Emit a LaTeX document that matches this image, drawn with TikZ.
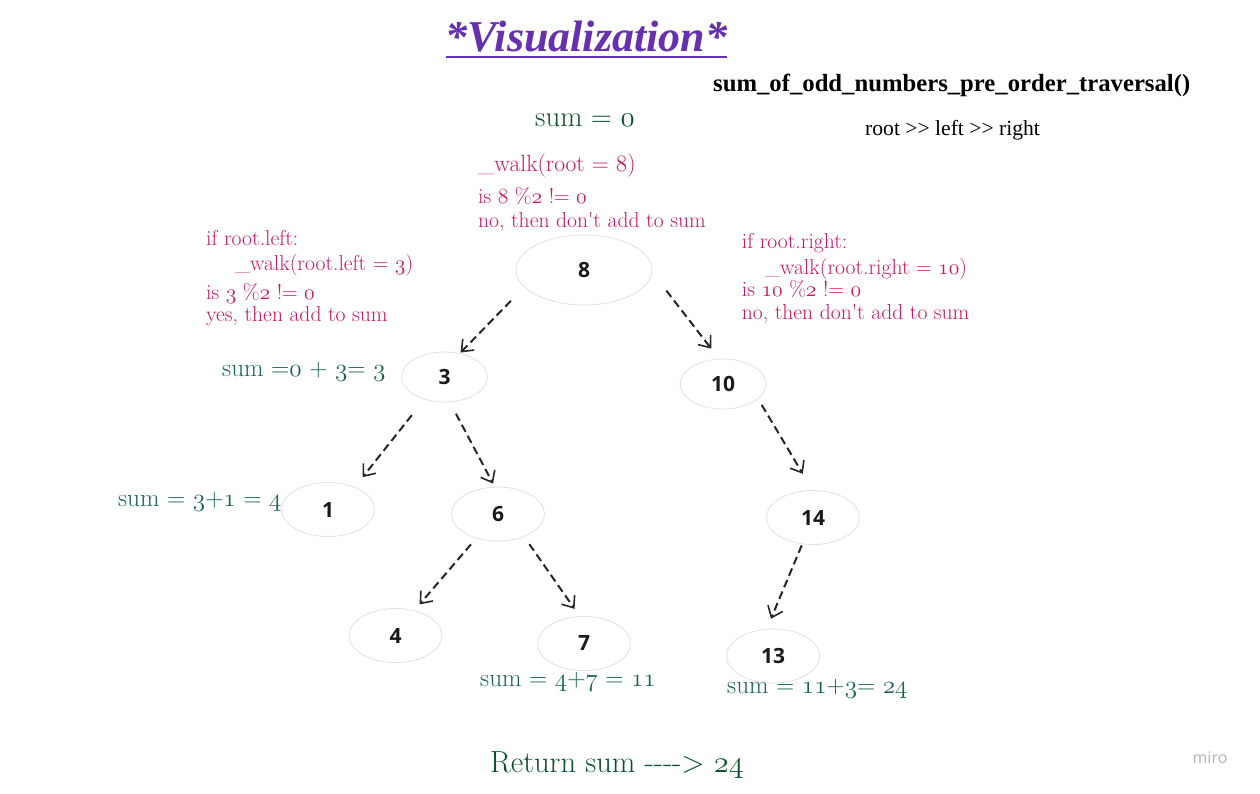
\RequirePackage{fix-cm}
\documentclass[tikz,border=0pt]{standalone}
\usepackage{fontspec}
\newfontfamily\opensans{Open Sans}
\newfontfamily\libserif{Liberation Serif}
\usetikzlibrary{arrows.meta,shapes.geometric,positioning}

\definecolor{walkpink}{RGB}{204,22,98}
\definecolor{sumteal}{RGB}{24,98,88}
\definecolor{sumgreen}{RGB}{10,82,42}
\definecolor{titlepurple}{RGB}{103,48,175}
\definecolor{ringgray}{RGB}{225,225,225}

% old style digits
\newcommand\osd[1]{{\usefont{OML}{cmm}{m}{it}#1}}

\tikzset{
  treenode/.style={ellipse, draw=ringgray, line width=0.8pt, inner sep=0pt,
    text=black!90, font=\opensans\bfseries\fontsize{21}{24}\selectfont},
  bignode/.style={treenode, minimum width=136pt, minimum height=70pt},
  midnode/.style={treenode, minimum width=86pt, minimum height=50pt},
  leafnode/.style={treenode, minimum width=93pt, minimum height=54pt},
  walkarrow/.style={draw=black!85, line width=2pt, dash pattern=on 8pt off 4.5pt,
    -{Straight Barb[length=10pt,width=16pt,line width=1.6pt]}},
  pinktext/.style={anchor=base west, inner sep=0pt, text=walkpink,
    font=\fontsize{21.6}{24}\selectfont},
  sumtext/.style={anchor=base west, inner sep=0pt, text=sumteal,
    font=\fontsize{25.2}{28}\selectfont},
  sumdark/.style={sumtext, text=sumgreen, font=\fontsize{28.8}{32}\selectfont}
}

\begin{document}
\begin{tikzpicture}[x=1pt,y=-1pt]
  \useasboundingbox (0,0) rectangle (1260,793);
  \fill[white] (0,0) rectangle (1260,793);

  % heading
  \node(title) at (586.5,51.7) [anchor=base, inner sep=0pt, text=titlepurple,
    font=\libserif\bfseries\itshape\fontsize{44}{48}\selectfont] {*Visualization*};
  \draw[titlepurple, line width=2pt] ([yshift=-5pt]title.base west) -- ([yshift=-5pt]title.base east);

  \node(fname) at (713,91.7) [anchor=base west, inner sep=0pt,
    font=\libserif\bfseries\fontsize{24.7}{28}\selectfont] {sum\_of\_odd\_numbers\_pre\_order\_traversal()};
  \node(order) at (865,135) [anchor=base west, inner sep=0pt,
    font=\libserif\fontsize{21.6}{26}\selectfont] {root >> left >> right};

  \node(sumzero) at (535,126) [sumdark] {sum = \osd{0}};

  % tree
  \node(n8)  at (584,270)     [bignode]  {8};
  \node(n3)  at (444.5,377)   [midnode]  {3};
  \node(n10) at (723,384)     [midnode]  {10};
  \node(n1)  at (328,509.5)   [leafnode] {1};
  \node(n6)  at (498,514)     [leafnode] {6};
  \node(n14) at (813,517.5)   [leafnode] {14};
  \node(n4)  at (395.5,635.5) [leafnode] {4};
  \node(n7)  at (584,643.5)   [leafnode] {7};
  \node(n13) at (773,656)     [leafnode] {13};

  \draw [walkarrow, shorten <=19pt, shorten >=1pt]    (n8.196.7)  -- (n3.57.5);
  \draw [walkarrow, shorten <=23pt, shorten >=12.7pt] (n8.358.7)  -- (n10.99.8);
  \draw [walkarrow, shorten <=20pt, shorten >=12.6pt] (n3.228.6)  -- (n1.40);
  \draw [walkarrow, shorten <=13pt, shorten >=3.5pt]  (n3.282.5)  -- (n6.97.8);
  \draw [walkarrow, shorten <=7pt, shorten >=19pt]    (n10.337.8) -- (n14.91.2);
  \draw [walkarrow, shorten <=8pt, shorten >=8pt]     (n6.228.6)  -- (n4.53.2);
  \draw [walkarrow, shorten <=9pt, shorten >=9pt]     (n6.319.1)  -- (n7.99.9);
  \draw [walkarrow, shorten <=1.3pt, shorten >=11pt]  (n14.248.2) -- (n13.103.2);

  % calls
  \node(walk8) at (478,171.7) [pinktext, font=\fontsize{23.5}{26}\selectfont] {\_walk(root = \osd{8})};
  \node(chk8)  at (478,203.3) [pinktext] {is \osd{8} \%\osd{2} != \osd{0}};
  \node(res8)  at (478,227.3) [pinktext] {no, then don\textquotesingle t add to sum};

  \node(ifleft) at (206,245) [pinktext] {if root.left:};
  \node(walk3)  at (235,270) [pinktext] {\_walk(root.left = \osd{3})};
  \node(chk3)   at (206,299) [pinktext] {is \osd{3} \%\osd{2} != \osd{0}};
  \node(res3)   at (206,321) [pinktext] {yes, then add to sum};

  \node(ifright) at (741.7,248.3) [pinktext] {if root.right:};
  \node(walk10)  at (765,274.3)   [pinktext] {\_walk(root.right = \osd{10})};
  \node(chk10)   at (741.7,296.7) [pinktext] {is \osd{10} \%\osd{2} != \osd{0}};
  \node(res10)   at (741.7,319.3) [pinktext] {no, then don\textquotesingle t add to sum};

  % running sums
  \node(sum3)  at (222,376)   [sumtext] {sum =\osd{0} + \osd{3}= \osd{3}};
  \node(sum1)  at (118,506.7) [sumtext] {sum = \osd{3}+\osd{1} = \osd{4}};
  \node(sum7)  at (480,686)   [sumtext] {sum = \osd{4}+\osd{7} = \osd{11}};
  \node(sum13) at (727,693.3) [sumtext] {sum = \osd{11}+\osd{3}= \osd{24}};

  \node(result) at (490,772) [sumdark, font=\fontsize{30.5}{34}\selectfont] {Return sum {-}{-}{-}{-}> \osd{24}};

  \node(miro) at (1210,758) [inner sep=0pt, text=black!30, font=\opensans\fontsize{16}{18}\selectfont] {miro};
\end{tikzpicture}
\end{document}
